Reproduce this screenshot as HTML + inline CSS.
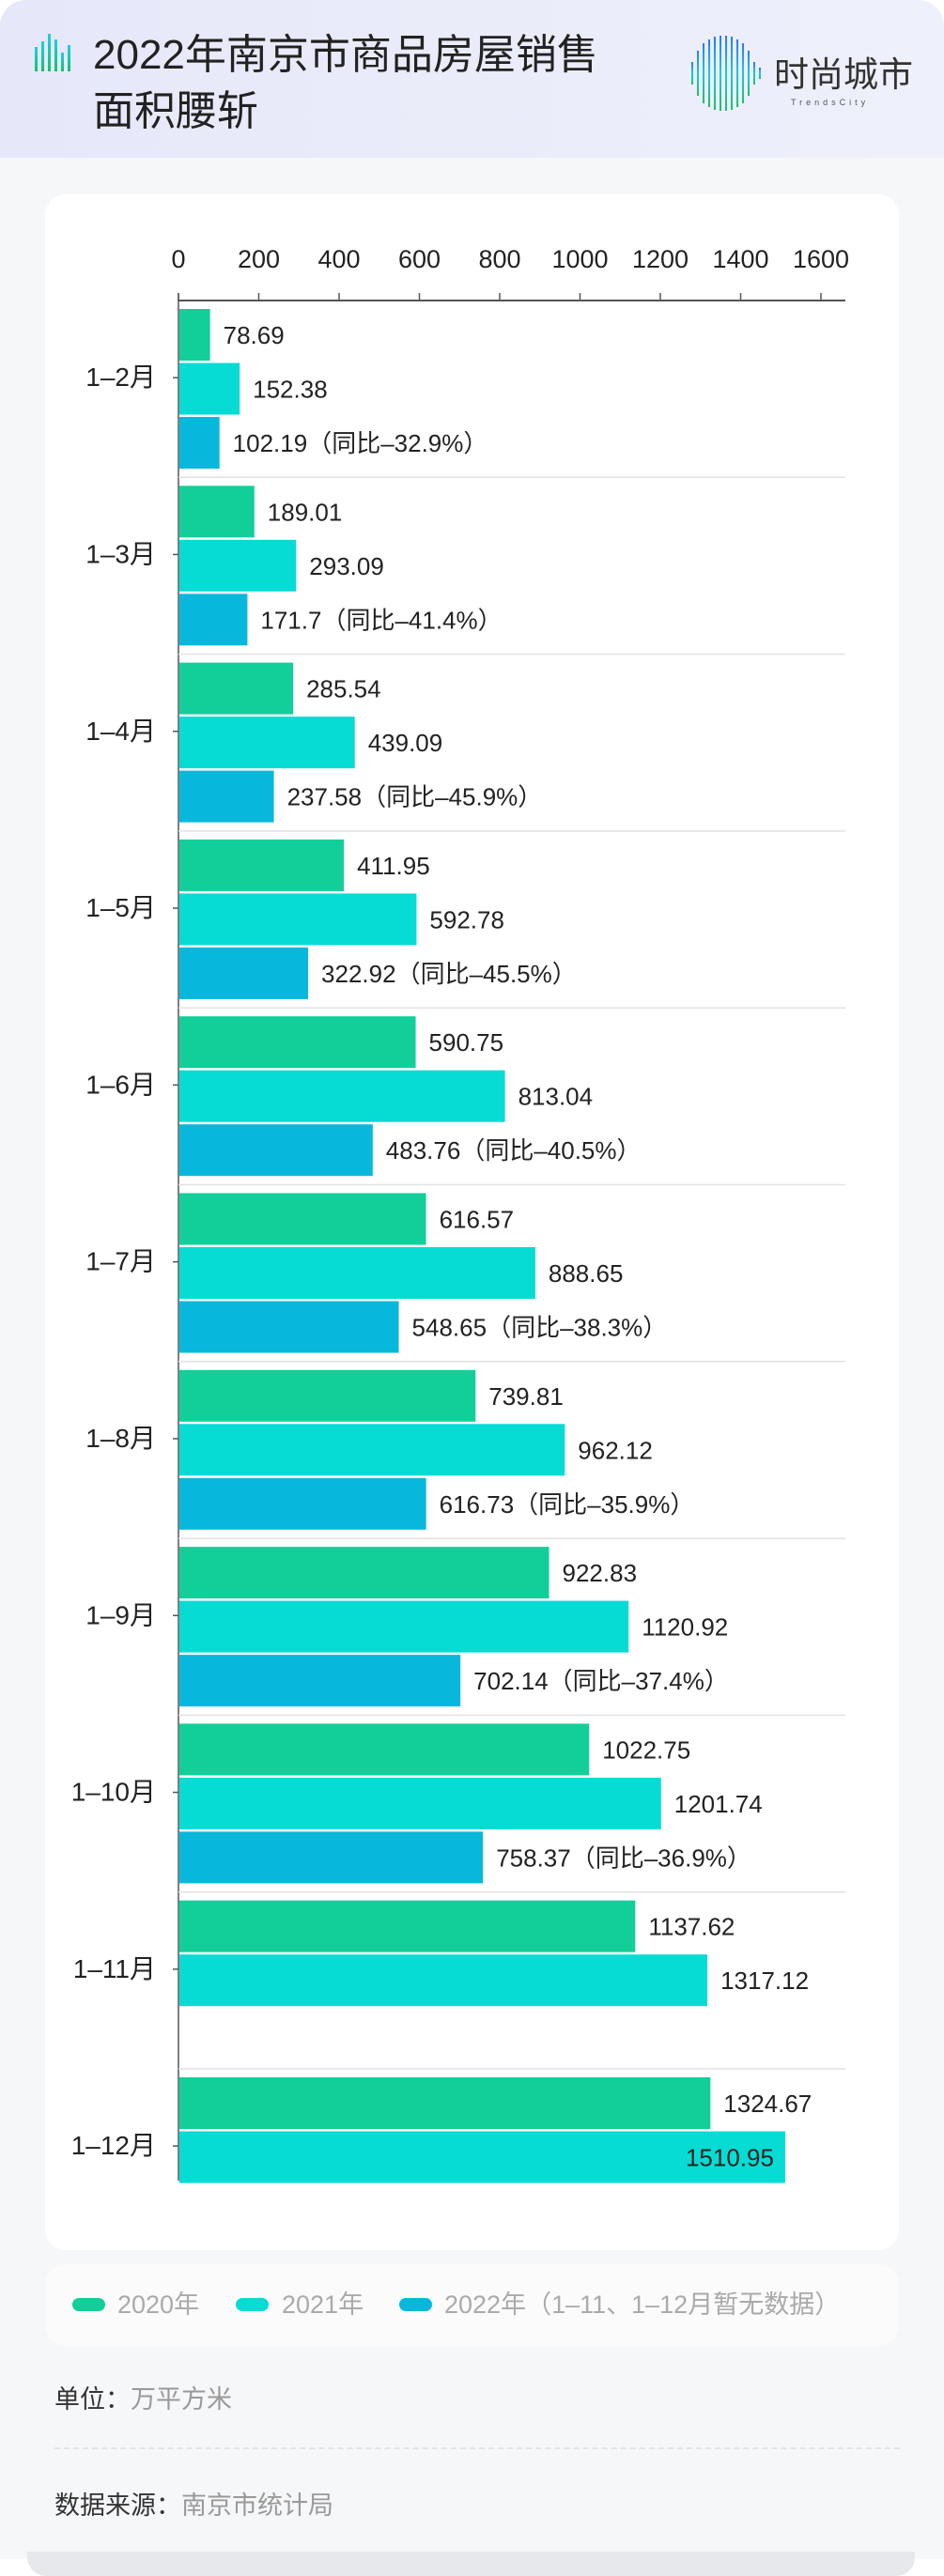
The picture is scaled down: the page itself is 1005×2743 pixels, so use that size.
<!DOCTYPE html>
<html><head><meta charset="utf-8">
<style>
html,body{margin:0;padding:0}
body{width:1005px;height:2743px;position:relative;background:#fff;font-family:"Liberation Sans","Noto Sans CJK SC",sans-serif;overflow:hidden}
#page{position:absolute;left:0;top:0;width:1005px;height:2725px;background:#f6f7f9;border-radius:28px 28px 0 0;overflow:hidden}
#bottom-strip{position:absolute;left:29px;top:2717px;width:945px;height:26px;background:#e6e8ec;border-radius:0 0 20px 20px}
#header{position:absolute;left:0;top:0;width:1005px;height:168px;background:linear-gradient(90deg,#e6e8fa,#eef0fb)}
.title{position:absolute;left:99px;font-size:44px;color:#222;line-height:50px}
#card{position:absolute;left:48px;top:207px;width:909px;height:2189px;background:#fff;border-radius:22px}
#legend{position:absolute;left:48px;top:2411px;width:909px;height:87px;background:#fbfbfc;border-radius:22px}
.leg{position:absolute;top:2438px;font-size:27px;color:#aaa;line-height:32px}
.sw{position:absolute;top:2447px;width:35px;height:14px;border-radius:7px}
.foot{position:absolute;left:58px;font-size:27px;color:#333;line-height:32px}
.foot span{color:#999}
</style></head><body>
<div id="page">
 <div id="header">
  <svg style="position:absolute;left:37px;top:36px" width="38" height="40">
   <defs><linearGradient id="ig" x1="0" y1="0" x2="0" y2="1"><stop offset="0" stop-color="#1fd0e0"/><stop offset="1" stop-color="#14c06a"/></linearGradient></defs>
   <rect x="0" y="14" width="3" height="26" fill="url(#ig)"/><rect x="7" y="8" width="3" height="32" fill="url(#ig)"/><rect x="14" y="0" width="3" height="40" fill="url(#ig)"/><rect x="21" y="6" width="3" height="34" fill="url(#ig)"/><rect x="28" y="20" width="3" height="20" fill="url(#ig)"/><rect x="35" y="12" width="3" height="28" fill="url(#ig)"/>
  </svg>
  <div class="title" style="top:34px">2022年南京市商品房屋销售</div>
  <div class="title" style="top:94px">面积腰斩</div>
  <svg style="position:absolute;left:734px;top:38px" width="260" height="80">
   <defs><linearGradient id="lg" x1="0" y1="0" x2="0" y2="1"><stop offset="0" stop-color="#2a7cf0"/><stop offset="0.5" stop-color="#1ec8e0"/><stop offset="1" stop-color="#20c060"/></linearGradient></defs>
   <g fill="url(#lg)">
    <rect x="2" y="28" width="2" height="24"/><rect x="8" y="16" width="2" height="48"/><rect x="14" y="8" width="2" height="64"/><rect x="20" y="4" width="2" height="72"/><rect x="26" y="1" width="2" height="78"/><rect x="32" y="0" width="2" height="80"/><rect x="38" y="0" width="2" height="80"/><rect x="44" y="1" width="2" height="78"/><rect x="50" y="4" width="2" height="72"/><rect x="56" y="8" width="2" height="64"/><rect x="62" y="16" width="2" height="48"/><rect x="68" y="28" width="2" height="24"/><rect x="74" y="34" width="2" height="12"/>
   </g>
   <text x="90" y="54" font-size="37" fill="#333" font-family="Liberation Sans, Noto Sans CJK SC, sans-serif">时尚城市</text>
   <text x="108" y="74" font-size="9" fill="#555" letter-spacing="4" font-family="Liberation Sans, sans-serif">TrendsCity</text>
  </svg>
 </div>
 <div id="card"></div>
 <svg id="chart" style="position:absolute;left:0;top:0" width="1005" height="2400"></svg>
 <div id="legend"></div>
 <div class="sw" style="left:77px;background:#12cf9a"></div>
 <div class="leg" style="left:125px">2020年</div>
 <div class="sw" style="left:251px;background:#06dcd4"></div>
 <div class="leg" style="left:300px">2021年</div>
 <div class="sw" style="left:425px;background:#08b8dc"></div>
 <div class="leg" style="left:473px">2022年（1–11、1–12月暂无数据）</div>
 <div class="foot" style="top:2539px">单位：<span>万平方米</span></div>
 <div style="position:absolute;left:58px;top:2606px;width:900px;border-top:2px dashed #e2e4e8"></div>
 <div class="foot" style="top:2652px">数据来源：<span>南京市统计局</span></div>
</div>
<div id="bottom-strip"></div>
<script>
const categories=["1–2月","1–3月","1–4月","1–5月","1–6月","1–7月","1–8月","1–9月","1–10月","1–11月","1–12月"];
const s2020=[78.69,189.01,285.54,411.95,590.75,616.57,739.81,922.83,1022.75,1137.62,1324.67];
const s2021=[152.38,293.09,439.09,592.78,813.04,888.65,962.12,1120.92,1201.74,1317.12,1510.95];
const s2022=[102.19,171.7,237.58,322.92,483.76,548.65,616.73,702.14,758.37,null,null];
const yoy=["-32.9%","-41.4%","-45.9%","-45.5%","-40.5%","-38.3%","-35.9%","-37.4%","-36.9%",null,null];
const ticks=[0,200,400,600,800,1000,1200,1400,1600];
const NS="http://www.w3.org/2000/svg";
const svg=document.getElementById('chart');
const X0=190,K=0.4275,TOP=320,GH=188.3;
const x=v=>X0+v*K;
const gy=i=>TOP+i*GH;
function el(t,a){const e=document.createElementNS(NS,t);for(const k in a)e.setAttribute(k,a[k]);svg.appendChild(e);return e;}
const FF="Liberation Sans, Noto Sans CJK SC, sans-serif";
let ax=el('line',{x1:X0,y1:TOP,x2:900,y2:TOP,stroke:'#555','stroke-width':2});


let ay=el('line',{x1:X0,y1:TOP-8,x2:X0,y2:2322,stroke:'#555','stroke-width':1.5});


ticks.forEach(t=>{
 let l=el('line',{x1:x(t),y1:TOP-8,x2:x(t),y2:TOP,stroke:'#555','stroke-width':1.5});
 
 
 let tx=el('text',{x:x(t),y:285,'text-anchor':'middle','font-size':27,fill:'#222','font-family':FF});
 tx.textContent=t;
 
 
});
const cols=['#12cf9a','#06dcd4','#08b8dc'];
categories.forEach((c,i)=>{
 const y0=gy(i);
 if(i>0){let s=el('line',{x1:X0,y1:y0,x2:900,y2:y0,stroke:'#e2e2e2','stroke-width':1.5});
  
  }
 let lb=el('text',{x:166,y:y0+GH/2-3,'text-anchor':'end','font-size':28,fill:'#222','font-family':FF});
 lb.textContent=c;
 
 
 let tk=el('line',{x1:X0-6,y1:y0+GH/2-12,x2:X0,y2:y0+GH/2-12,stroke:'#555','stroke-width':1.5});
 
 
 [s2020[i],s2021[i],s2022[i]].forEach((v,j)=>{
  if(v==null)return;
  const by=y0+9+j*57.5;
  let r=el('rect',{x:X0+1,y:by,width:x(v)-X0-1,height:55,fill:cols[j]});
  
  
  let txt=v+(j==2&&yoy[i]?'（同比'+yoy[i].replace('-','–')+'）':'');
  const inside=x(v)+150>960;
  let t=el('text',{x:inside?x(v)-12:x(v)+14,y:by+37,'text-anchor':inside?'end':'start','font-size':26,fill:'#222','font-family':FF});
  t.textContent=txt;
  
  
 });
});
</script>
</body></html>
